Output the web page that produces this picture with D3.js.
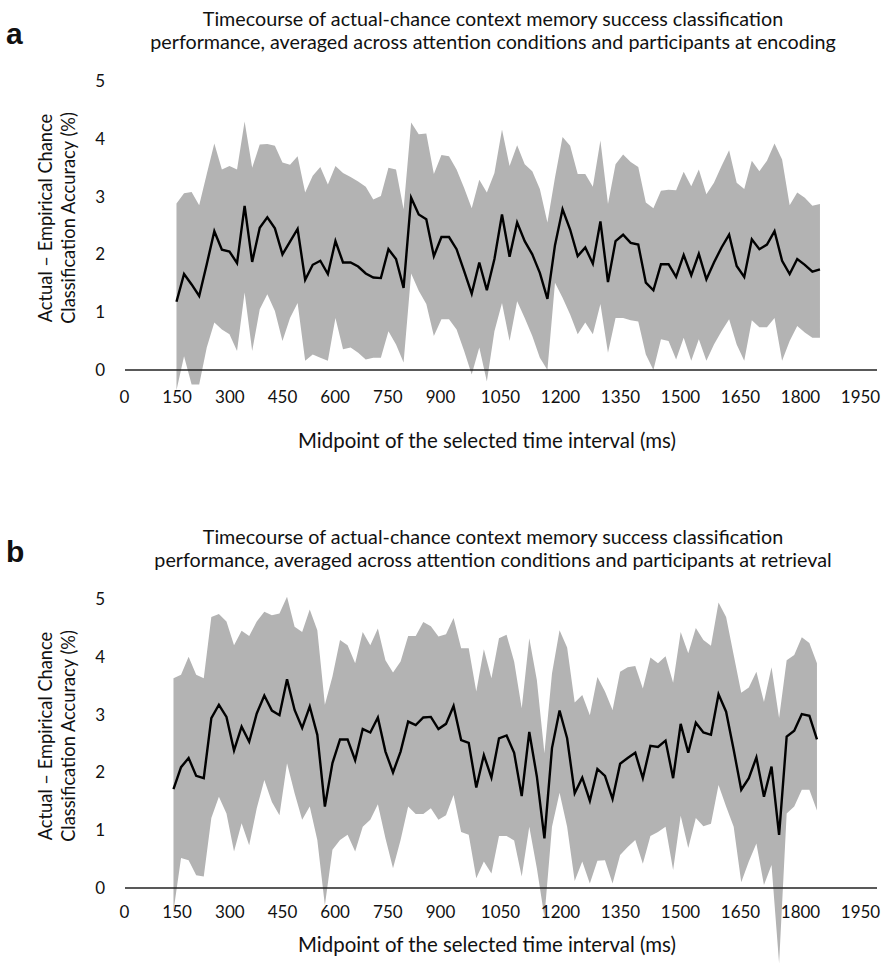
<!DOCTYPE html>
<html>
<head>
<meta charset="utf-8">
<script src="https://cdn.jsdelivr.net/npm/d3@7"></script>
<style>
  body { margin: 0; background: #fff; }
  text { font-family: Lato, "Open Sans", sans-serif; fill: #111; }
</style>
</head>
<body>
<svg id="chart" width="882" height="965"></svg>
<script>
// midpoints of the time windows (ms)
var times = [150,170,190,210,230,250,270,290,310,330,350,370,390,410,430,450,470,490,510,530,
  550,570,590,610,630,650,670,690,710,730,750,770,790,810,830,850,870,890,910,930,
  950,970,990,1010,1030,1050,1070,1090,1110,1130,1150,1170,1190,1210,1230,1250,1270,1290,1310,1330,
  1350,1370,1390,1410,1430,1450,1470,1490,1510,1530,1550,1570,1590,1610,1630,1650,1670,1690,1710,1730,
  1750,1770,1790,1810,1830,1850];

// panel a : encoding
var encMean = [1.18,1.66,1.48,1.28,1.83,2.40,2.08,2.05,1.85,2.84, 1.87,2.46,2.64,2.45,2.00,2.22,2.44,1.56,1.82,1.89,
  1.66,2.23,1.86,1.86,1.79,1.67,1.60,1.59,2.09,1.92, 1.42,2.98,2.69,2.61,1.97,2.30,2.30,2.09,1.71,1.32,
  1.86,1.38,1.92,2.69,1.96,2.55,2.23,2.00,1.68,1.23, 2.16,2.78,2.43,1.97,2.12,1.84,2.57,1.52,2.23,2.34,
  2.20,2.17,1.51,1.38,1.83,1.83,1.61,1.99,1.64,2.01, 1.57,1.86,2.12,2.34,1.80,1.61,2.26,2.09,2.17,2.40,
  1.89,1.66,1.92,1.82,1.70,1.74];
var encUpper = [2.88,3.06,3.08,2.85,3.39,3.92,3.47,3.53,3.47,4.30, 3.50,3.90,3.91,3.88,3.59,3.55,3.70,3.07,3.36,3.51,
  3.21,3.53,3.41,3.34,3.26,3.17,2.95,3.01,3.50,3.47, 2.78,4.28,4.08,4.09,3.39,3.72,3.70,3.47,3.15,2.80,
  3.29,3.07,3.41,4.16,3.53,3.89,3.56,3.44,3.13,2.55, 3.33,4.03,3.88,3.39,3.39,3.17,3.97,2.87,3.56,3.73,
  3.60,3.51,2.90,2.80,3.10,3.12,3.11,3.43,3.18,3.47, 3.04,3.24,3.53,3.80,3.24,3.13,3.62,3.44,3.62,3.92,
  3.64,2.85,3.07,2.98,2.84,2.87];
var encLower = [-0.35,0.24,-0.25,-0.25,0.39,0.82,0.70,0.62,0.33,1.34, 0.33,1.05,1.31,1.02,0.50,0.90,1.16,0.16,0.27,0.21,
  0.16,0.90,0.36,0.39,0.30,0.18,0.21,0.21,0.67,0.44, 0.13,1.67,1.37,1.14,0.59,0.88,0.88,0.70,0.33,-0.08,
  0.39,-0.20,0.67,1.16,0.50,1.19,0.90,0.59,0.21,0.00, 1.51,1.25,0.96,0.62,0.82,0.62,1.14,0.30,0.90,0.90,
  0.86,0.84,0.27,0.00,0.53,0.50,0.18,0.56,0.16,0.53, 0.16,0.44,0.67,0.88,0.44,0.16,0.86,0.74,0.74,0.90,
  0.16,0.50,0.76,0.65,0.56,0.56];

// panel b : retrieval
var retMean = [1.71,2.09,2.25,1.94,1.90,2.94,3.17,2.96,2.38,2.79, 2.53,3.02,3.33,3.07,2.99,3.61,3.08,2.77,3.14,2.65,
  1.41,2.16,2.57,2.57,2.21,2.75,2.69,2.95,2.36,2.00, 2.36,2.88,2.82,2.95,2.96,2.75,2.84,3.15,2.56,2.51,
  1.74,2.30,1.91,2.59,2.64,2.34,1.59,2.70,1.93,0.86, 2.42,3.07,2.59,1.64,1.91,1.51,2.06,1.94,1.54,2.15,
  2.25,2.34,1.90,2.46,2.44,2.55,1.90,2.84,2.34,2.86, 2.69,2.65,3.35,3.05,2.39,1.70,1.90,2.26,1.58,2.10,
  0.92,2.62,2.72,3.01,2.98,2.57];
var retUpper = [3.63,3.69,4.00,3.69,3.63,4.69,4.74,4.61,4.20,4.45, 4.36,4.61,4.78,4.72,4.75,5.04,4.52,4.43,4.82,4.46,
  3.17,3.66,4.29,4.20,3.89,4.43,4.20,4.49,3.94,3.73, 3.92,4.36,4.36,4.60,4.53,4.35,4.39,4.67,4.15,4.15,
  3.40,4.13,3.63,4.32,4.38,3.92,3.11,4.32,3.60,2.33, 3.71,4.46,4.16,3.21,3.34,2.99,3.65,3.40,3.08,3.74,
  3.82,3.84,3.45,3.99,3.89,4.01,3.55,4.43,4.06,4.50, 4.29,4.19,4.94,4.69,4.03,3.38,3.47,3.74,3.22,3.82,
  2.94,3.94,4.03,4.34,4.24,3.89];
var retLower = [-0.40,0.52,0.48,0.22,0.20,1.21,1.58,1.29,0.63,1.12, 0.74,1.38,1.87,1.49,1.26,2.16,1.64,1.18,1.41,0.83,
  -0.30,0.66,0.83,0.92,0.63,1.06,1.18,1.45,0.86,0.34, 0.83,1.41,1.28,1.28,1.38,1.18,1.26,1.61,0.97,0.92,
  0.17,0.46,0.25,0.90,0.90,0.82,0.20,1.06,0.34,-0.50, 1.06,1.65,1.06,0.12,0.46,0.08,0.47,0.48,0.08,0.57,
  0.71,0.83,0.42,0.90,0.97,1.06,0.31,1.25,0.69,1.21, 1.07,1.11,1.78,1.41,1.06,0.10,0.46,0.77,0.05,0.40,
  -1.30,1.29,1.41,1.70,1.70,1.34];

var xTicks = [0,150,300,450,600,750,900,1050,1200,1350,1500,1650,1800,1950];
var yTicks = [0,1,2,3,4,5];

var titleA = ["Timecourse of actual-chance context memory success classification",
  "performance, averaged across attention conditions and participants at encoding"];
var titleB = ["Timecourse of actual-chance context memory success classification",
  "performance, averaged across attention conditions and participants at retrieval"];
var yTitle = ["Actual \u2013 Empirical Chance", "Classification Accuracy (%)"];
var xTitle = "Midpoint of the selected time interval (ms)";

var svg = d3.select("#chart");

function fitWidth(sel, target) {
  var w = sel.node().getComputedTextLength();
  var fs = parseFloat(sel.style("font-size"));
  var nfs = fs * target / w;
  sel.style("font-size", nfs + "px");
  return nfs;
}

var titleSize = null, xTitleSize = null, yTitleSize = null;

function panel(top, mean, upper, lower, title, letter, shift, tickGap, xTitleGap) {
  var g = svg.append("g");
  // data scale
  var x = d3.scaleLinear().domain([0, 1950]).range([119.7 + shift, 857.8 + shift]);
  // the printed tick labels in the original sit on an uneven grid
  var xLab = d3.scaleLinear().domain([0, 900, 1950]).range([124, 440, 860]);
  var y = d3.scaleLinear().domain([0, 5]).range([top + 370, top + 81]);

  // band
  var area = d3.area()
    .x(function(d, i) { return x(times[i]); })
    .y0(function(d, i) { return y(lower[i]); })
    .y1(function(d, i) { return y(upper[i]); });
  g.append("path").datum(mean)
    .attr("d", area)
    .attr("fill", "#b3b3b3");

  // zero line
  g.append("line")
    .attr("x1", 125).attr("x2", 877)
    .attr("y1", y(0)).attr("y2", y(0))
    .attr("stroke", "#222").attr("stroke-width", 1.3);

  // mean line
  var line = d3.line()
    .x(function(d, i) { return x(times[i]); })
    .y(function(d) { return y(d); });
  g.append("path").datum(mean)
    .attr("d", line)
    .attr("fill", "none")
    .attr("stroke", "#000")
    .attr("stroke-width", 2.4);

  // y tick labels
  var ya = g.append("g")
    .attr("transform", "translate(105,0)")
    .call(d3.axisLeft(y).tickValues(yTicks).tickFormat(d3.format("d")).tickSize(0).tickPadding(0));
  ya.select(".domain").remove();
  ya.selectAll("text").style("font-size", "17px").attr("fill", "#111")
    .style("font-family", "Lato, 'Open Sans', sans-serif");

  // x tick labels
  var xa = g.append("g")
    .attr("transform", "translate(0," + (y(0) + tickGap - 8) + ")")
    .call(d3.axisBottom(xLab).tickValues(xTicks).tickFormat(d3.format("d")).tickSize(0).tickPadding(0));
  xa.select(".domain").remove();
  xa.selectAll("text").style("font-size", "17px").attr("fill", "#111")
    .style("font-family", "Lato, 'Open Sans', sans-serif");

  // x title
  var xt = g.append("text")
    .attr("x", 487).attr("y", y(0) + xTitleGap)
    .attr("dy", "0.36em")
    .attr("text-anchor", "middle")
    .style("font-size", "18px")
    .text(xTitle);
  if (xTitleSize === null) xTitleSize = fitWidth(xt, 378);
  else xt.style("font-size", xTitleSize + "px");

  // y title, two rotated lines
  var cy = top + 218;
  var yt = g.selectAll("text.ytitle").data(yTitle).enter().append("text")
    .attr("class", "ytitle")
    .attr("transform", function(d, i) { return "translate(" + (45 + i * 23) + "," + cy + ") rotate(-90)"; })
    .attr("dy", "0.36em")
    .attr("text-anchor", "middle")
    .style("font-size", "17px")
    .text(function(d) { return d; });
  if (yTitleSize === null) yTitleSize = fitWidth(d3.select(yt.nodes()[1]), 212);
  yt.style("font-size", yTitleSize + "px");

  // chart title
  var tt = g.selectAll("text.title").data(title).enter().append("text")
    .attr("class", "title")
    .attr("x", 493)
    .attr("y", function(d, i) { return top + 19 + i * 23; })
    .attr("dy", "0.36em")
    .attr("text-anchor", "middle")
    .style("font-size", "17px")
    .text(function(d) { return d; });
  if (titleSize === null) titleSize = fitWidth(d3.select(tt.nodes()[1]), 686);
  tt.style("font-size", titleSize + "px");

  // panel letter
  g.append("text")
    .attr("x", 6).attr("y", top + 33)
    .attr("dy", "0.36em")
    .style("font-family", "'Liberation Sans', Arial, sans-serif")
    .style("font-weight", "bold")
    .style("font-size", "30px")
    .text(letter);
}

panel(0, encMean, encUpper, encLower, titleA, "a", 0, 29, 71);
panel(518, retMean, retUpper, retLower, titleB, "b", -3, 26, 57);
</script>
</body>
</html>
